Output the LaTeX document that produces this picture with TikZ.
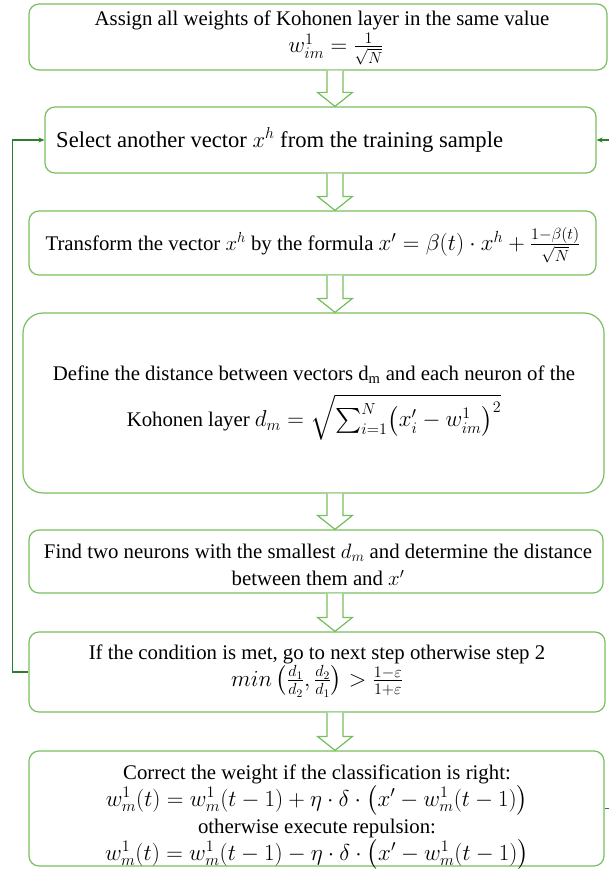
\RequirePackage{fix-cm}
\documentclass[tikz,border=0pt]{standalone}
\usepackage{amsmath}
\usepackage[no-math]{fontspec}
\setmainfont{LiberationSerif-Regular.ttf}[BoldFont=LiberationSerif-Bold.ttf, ItalicFont=LiberationSerif-Italic.ttf, BoldItalicFont=LiberationSerif-BoldItalic.ttf]
\usetikzlibrary{calc,arrows.meta}
\definecolor{boxgreen}{RGB}{120,192,95}
\definecolor{loopgreen}{RGB}{45,125,45}
\newcommand\bm[1]{{\fontsize{23}{28}\selectfont$#1$}}
\tikzset{
  box/.style={draw=boxgreen, line width=1.2pt, rounded corners=10pt, fill=white, inner sep=0pt},
  txt/.style={inner sep=0pt, align=center, font=\rmfamily\fontsize{20.8}{27}\selectfont},
  bigtxt/.style={inner sep=0pt, font=\rmfamily\fontsize{22.6}{27}\selectfont},
  barrow/.style={draw=boxgreen, line width=1.2pt, fill=white, line join=miter},
  fb/.style={draw=loopgreen, line width=1.4pt, -{Stealth[length=6pt,width=5pt]}},
  fbline/.style={draw=loopgreen, line width=1.4pt}
}
\newcommand\blockarrow[2]{%
  \path let \p1=(ax |- #1.south), \p2=(ax |- #2.north) in
    coordinate (tmpa) at (\x1,\y1) coordinate (tmpb) at (\x1,\y2);
  \draw[barrow] let \p1=(tmpa), \p2=(tmpb) in
    (\x1-8pt,\y1) -- (\x1-8pt,\y2+14pt) -- (\x1-17.5pt,\y2+14pt) -- (\x1,\y2)
    -- (\x1+17.5pt,\y2+14pt) -- (\x1+8pt,\y2+14pt) -- (\x1+8pt,\y1);
}
\begin{document}
\begin{tikzpicture}[x=1pt,y=-1pt]
\useasboundingbox (0,0) rectangle (609,869);
\fill[white] (0,0) rectangle (609,869);
\coordinate (ax) at (335,0);
% boxes
\node[box, minimum width=578pt, minimum height=66pt] (b1) at (318,37) {};
\node[box, minimum width=551pt, minimum height=66pt] (b2) at (320.5,140) {};
\node[box, minimum width=567pt, minimum height=64pt] (b3) at (312.5,243) {};
\node[box, rounded corners=20pt, minimum width=581pt, minimum height=180pt] (b4) at (313.5,403) {};
\node[box, minimum width=574pt, minimum height=63pt] (b5) at (316,561.5) {};
\node[box, minimum width=576pt, minimum height=80pt] (b6) at (317,672) {};
\node[box, minimum width=575pt, minimum height=115pt] (b7) at (316.5,808.5) {};
% texts
\node[txt] (t1) at (322,38) {Assign all weights of Kohonen layer in the same value\\
  \hspace*{28pt}\bm{w_{im}^{1}=\frac{1}{\sqrt{N}}}};
\node[bigtxt, anchor=west] (t2) at (56,140) {Select another vector $x^{h}$ from the training sample};
\node[txt] (t3) at (313,245) {Transform the vector $x^{h}$ by the formula \bm{x'=\beta(t)\cdot x^{h}+\frac{1-\beta(t)}{\sqrt{N}}}};
\node[txt] (t4) at (314,403) {Define the distance between vectors d\textsubscript{m} and each neuron of the\\[10pt]
  Kohonen layer \bm{d_m=\sqrt{\sum_{i=1}^{N}\bigl(x_i'-w_{im}^{1}\bigr)^{2}}}};
\node[txt] (t5) at (318,565) {Find two neurons with the smallest $d_m$ and determine the distance\\
  between them and $x'$};
\node[txt] (t6) at (317,671) {If the condition is met, go to next step otherwise step 2\\
  \bm{min\left(\frac{d_1}{d_2},\frac{d_2}{d_1}\right)>\frac{1-\varepsilon}{1+\varepsilon}}};
\node[txt] (t7) at (317,817) {Correct the weight if the classification is right:\\
  \bm{w_m^{1}(t)=w_m^{1}(t-1)+\eta\cdot\delta\cdot\bigl(x'-w_m^{1}(t-1)\bigr)}\\
  otherwise execute repulsion:\\
  \bm{w_m^{1}(t)=w_m^{1}(t-1)-\eta\cdot\delta\cdot\bigl(x'-w_m^{1}(t-1)\bigr)}};
% block arrows
\blockarrow{b1}{b2}
\blockarrow{b2}{b3}
\blockarrow{b3}{b4}
\blockarrow{b4}{b5}
\blockarrow{b5}{b6}
\blockarrow{b6}{b7}
% feedback
\draw[fb] (b6.west) -- ++(-16,0) |- (b2.west);
\coordinate (rin) at (609,140);
\coordinate (rout) at (609,808.5);
\draw[fb] (rin) -- (b2.east);
\draw[fbline] (b7.east) -- (rout);
\end{tikzpicture}
\end{document}
